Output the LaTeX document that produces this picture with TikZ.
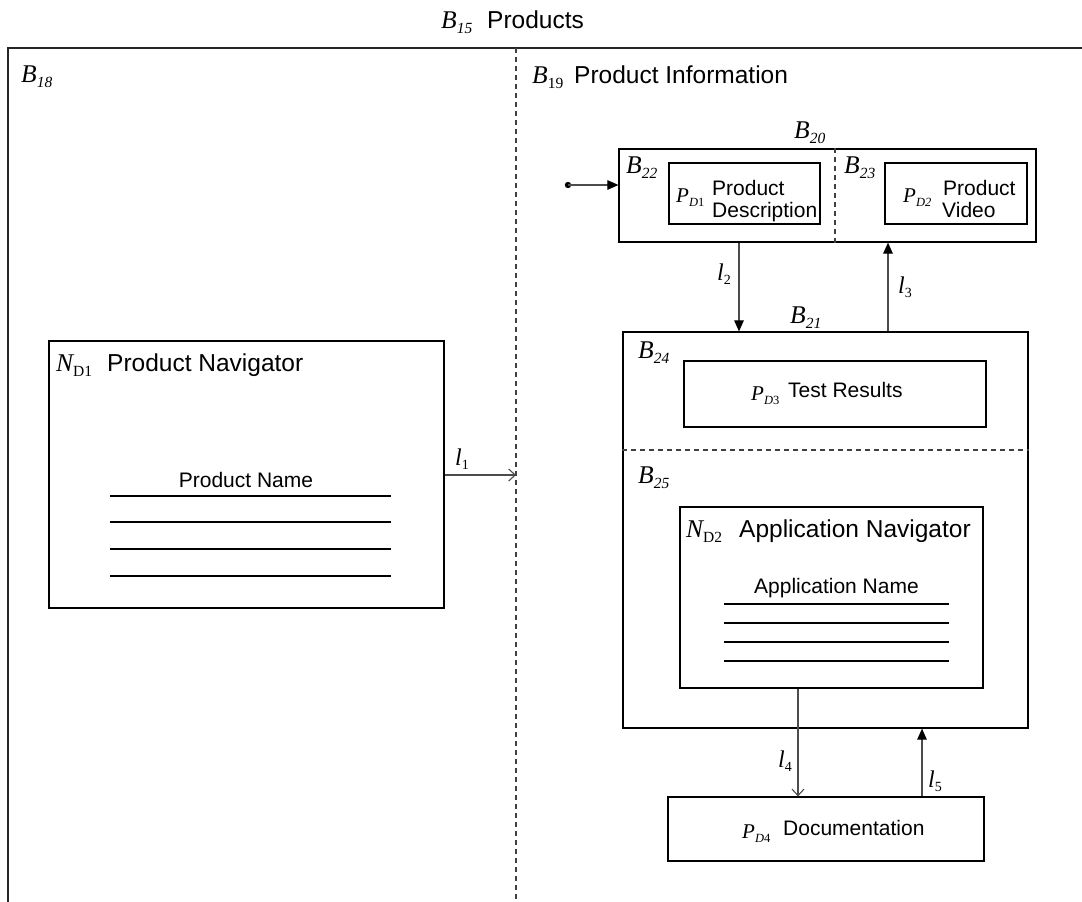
\documentclass[tikz,border=0pt]{standalone}
\usepackage{fontspec}
\setmainfont{Liberation Sans}
\newfontfamily\tms{Liberation Serif}
\usetikzlibrary{arrows.meta}

% symbols: italic serif letter with a lowered index
\newcommand\Bsym[2]{{\fontsize{25.5}{25.5}\selectfont\tms\itshape #1}\raisebox{-5.5pt}{\fontsize{15.5}{15.5}\selectfont\tms #2}}
\newcommand\Psym[2]{{\fontsize{21}{21}\selectfont\tms\itshape #1}\raisebox{-4.5pt}{\fontsize{12.5}{12.5}\selectfont\tms #2}}
\newcommand\lsym[1]{{\fontsize{24}{24}\selectfont\tms\itshape l}\raisebox{-4.5pt}{\fontsize{14}{14}\selectfont\tms #1}}

\tikzset{
  frameline/.style={draw=black!85, line width=1.5pt},
  divider/.style={draw=black!75, line width=1.1pt, dash pattern=on 5pt off 4pt},
  boxnode/.style={draw=black, line width=1.2pt, inner sep=0pt, anchor=center},
  txt/.style={inner sep=0pt, anchor=base west},
  head/.style={txt, font=\fontsize{24.5}{24.5}\selectfont},
  body/.style={txt, font=\fontsize{21}{21}\selectfont},
  conn/.style={draw=black!70, line width=1.1pt},
  solidtip/.style={conn, -{Triangle[length=11pt,width=9.5pt,color=black]}},
  opentip/.style={conn, -{Straight Barb[length=6.5pt,width=12pt]}},
  rule/.style={draw=black, line width=1.2pt},
}

\begin{document}
\begin{tikzpicture}[x=1pt,y=-1pt]
\useasboundingbox (0,0) rectangle (1082,902);

% outer frame B15 (open at bottom and right)
\coordinate (ftl) at (8,48);
\coordinate (fbl) at (8,902);
\coordinate (ftr) at (1082,48);
\draw[frameline] (fbl) -- (ftl) -- (ftr);
\coordinate (dtop) at (516,48);
\coordinate (dbot) at (516,902);
\draw[divider] (dtop) -- (dbot);

% title and region labels
\node[txt] (b15) at (441,28) {\Bsym{B}{\itshape 15}};
\node[head] (b15t) at (487,28) {Products};
\node[txt] (b18) at (21,82) {\Bsym{B}{\itshape 18}};
\node[txt] (b19) at (532,83) {\Bsym{B}{19}};
\node[head] (b19t) at (574,83) {Product Information};

% product navigator
\node[boxnode, minimum width=395pt, minimum height=267pt] (nd1) at (246.5,474.5) {};
\node[txt] (nd1s) at (56,371) {\Bsym{N}{D1}};
\node[head] (nd1t) at (107,371) {Product Navigator};
\node[body, anchor=base] (pname) at (246,487) {Product Name};
\draw[rule] (110,496) -- (391,496);
\draw[rule] (110,522) -- (391,522);
\draw[rule] (110,549) -- (391,549);
\draw[rule] (110,576) -- (391,576);

% B20 with product description and video
\node[boxnode, minimum width=417pt, minimum height=93pt] (b20) at (827.5,195.5) {};
\draw[divider] (835,0 |- b20.north) -- (835,0 |- b20.south);
\node[txt] (b20l) at (794,138) {\Bsym{B}{\itshape 20}};
\node[txt] (b22) at (626,173) {\Bsym{B}{\itshape 22}};
\node[txt] (b23) at (844,173) {\Bsym{B}{\itshape 23}};
\node[boxnode, minimum width=151pt, minimum height=61pt] (pd1) at (744.5,193.5) {};
\node[txt] (pd1s) at (676,202) {\Psym{P}{{\itshape D}1}};
\node[body] (pd1a) at (712,195) {Product};
\node[body] (pd1b) at (712,217) {Description};
\node[boxnode, minimum width=142pt, minimum height=61pt] (pd2) at (956,193.5) {};
\node[txt] (pd2s) at (903,202) {\Psym{P}{\itshape D2}};
\node[body] (pd2a) at (943,195) {Product};
\node[body] (pd2b) at (942,217) {Video};

% entry point
\coordinate (entry) at (568,185);
\fill[black] (entry) circle (3.2pt);
\draw[solidtip] (entry) -- (entry -| b20.west);

% B21 with test results and application navigator
\node[boxnode, minimum width=405pt, minimum height=396pt] (b21) at (825.5,530) {};
\node[txt] (b21l) at (790,323) {\Bsym{B}{\itshape 21}};
\node[txt] (b24) at (638,358) {\Bsym{B}{\itshape 24}};
\node[boxnode, minimum width=302pt, minimum height=66pt] (pd3) at (835,394) {};
\node[txt] (pd3s) at (751,400) {\Psym{P}{{\itshape D}3}};
\node[body] (pd3t) at (788,397) {Test Results};
\draw[divider] (b21.west |- 0,450) -- (b21.east |- 0,450);
\node[txt] (b25) at (638,483) {\Bsym{B}{\itshape 25}};
\node[boxnode, minimum width=303pt, minimum height=181pt] (nd2) at (831.5,597.5) {};
\node[txt] (nd2s) at (686,537) {\Bsym{N}{D2}};
\node[head] (nd2t) at (739,537) {Application Navigator};
\node[body, anchor=base] (aname) at (836.5,593) {Application Name};
\draw[rule] (724,604) -- (949,604);
\draw[rule] (724,623) -- (949,623);
\draw[rule] (724,642) -- (949,642);
\draw[rule] (724,661) -- (949,661);

% documentation
\node[boxnode, minimum width=316pt, minimum height=64pt] (pd4) at (826,829) {};
\node[txt] (pd4s) at (742,838) {\Psym{P}{{\itshape D}4}};
\node[body] (pd4t) at (783,835) {Documentation};

% links
\coordinate (l1end) at (516,475);
\draw[opentip] (nd1.east |- l1end) -- (l1end);
\node[txt] (l1) at (455,465) {\lsym{1}};

\draw[solidtip] (739,0 |- b20.south) -- (739,0 |- b21.north);
\node[txt] (l2) at (717,280) {\lsym{2}};

\draw[solidtip] (888,0 |- b21.north) -- (888,0 |- b20.south);
\node[txt] (l3) at (898,293) {\lsym{3}};

\draw[opentip] (798,0 |- nd2.south) -- (798,0 |- pd4.north);
\node[txt] (l4) at (778,767) {\lsym{4}};

\draw[solidtip] (922,0 |- pd4.north) -- (922,0 |- b21.south);
\node[txt] (l5) at (928,787) {\lsym{5}};
\end{tikzpicture}
\end{document}
